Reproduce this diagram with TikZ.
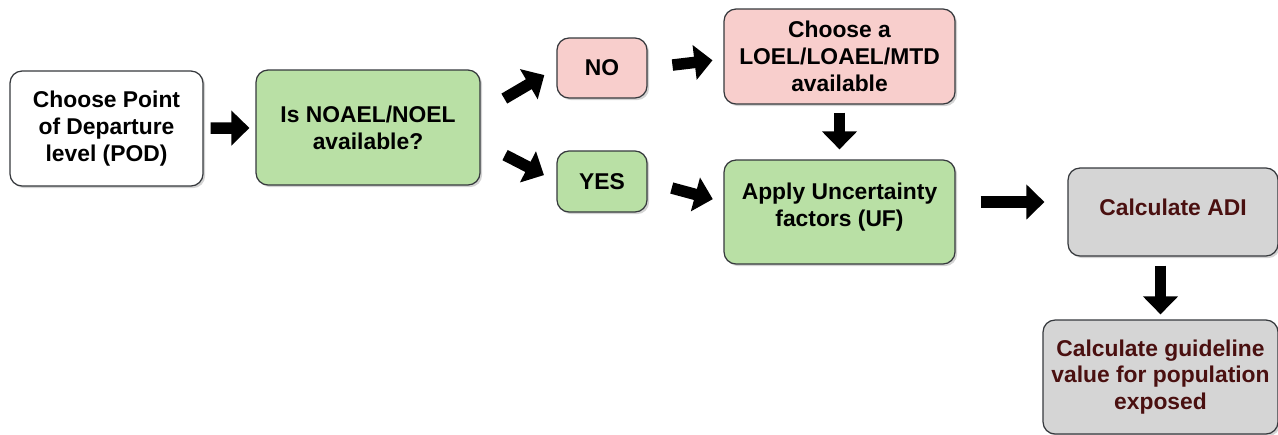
\documentclass[tikz,border=0pt]{standalone}
\usepackage{fontspec}
\setmainfont{Liberation Sans}
\usetikzlibrary{arrows.meta, positioning, shadows}
\definecolor{boxgreen}{HTML}{B9E0A5}
\definecolor{boxpink}{HTML}{F8CECC}
\definecolor{boxgrey}{HTML}{D5D5D5}
\definecolor{boxline}{HTML}{36393D}
\definecolor{darkred}{HTML}{4A1010}
\tikzset{
  base/.style = {
    draw=boxline, line width=0.7pt, align=center,
    font=\bfseries\fontsize{13}{15.3}\selectfont, text centered,
    rounded corners=0.24cm,
    drop shadow={shadow xshift=1.2pt, shadow yshift=-1.2pt, opacity=0.35}
  },
  startbox/.style = {
    base, fill=white
  },
  yesbox/.style = {
    base, fill=boxgreen
  },
  nobox/.style = {
    base, fill=boxpink
  },
  resultbox/.style = {
    base, fill=boxgrey, text=darkred
  },
  blockarrow/.style = {
    line width=0.23cm, -{Triangle[length=0.36cm, width=0.68cm]}
  }
}

\begin{document}
\begin{tikzpicture}[x=0.02cm, y=-0.02cm]
  \useasboundingbox (0,0) rectangle (1278,434);

  % Boxes
  \node[startbox, minimum width=3.86cm, minimum height=2.3cm] (pod) at (106.5,128.5)
    {Choose Point\\of Departure\\level (POD)};
  \node[yesbox, minimum width=4.48cm, minimum height=2.3cm] (noael) at (368,127.5)
    {Is NOAEL/NOEL\\available?};
  \node[nobox, minimum width=1.8cm, minimum height=1.2cm] (no) at (602,68) {NO};
  \node[yesbox, minimum width=1.8cm, minimum height=1.22cm] (yes) at (602,181.5) {YES};
  \node[nobox, minimum width=4.62cm, minimum height=1.9cm] (loel) at (839.5,56.5)
    {Choose a\\LOEL/LOAEL/MTD\\available};
  \node[yesbox, minimum width=4.62cm, minimum height=2.08cm, text depth=0.3cm] (uf) at (839.5,212)
    {Apply Uncertainty\\factors (UF)};
  \node[resultbox, minimum width=4.2cm, minimum height=1.76cm, text depth=0.18cm] (adi) at (1173,212)
    {Calculate ADI};
  \node[resultbox, minimum width=4.7cm, minimum height=2.28cm] (guide) at (1160.5,377)
    {Calculate guideline\\value for population\\exposed};

  % Arrows
  \draw[blockarrow, shorten <=0.14cm, shorten >=0.12cm] (pod) -- (noael);
  \draw[blockarrow, shorten <=0.55cm, shorten >=0.28cm] ([yshift=0.3cm]noael.east) -- (no.west);
  \draw[blockarrow, shorten <=0.55cm, shorten >=0.28cm] ([yshift=-0.3cm]noael.east) -- (yes.west);
  \draw[blockarrow, shorten <=0.5cm, shorten >=0.22cm] (no.east) -- ([yshift=-0.05cm]loel.west);
  \draw[blockarrow, shorten <=0.5cm, shorten >=0.22cm] (yes.east) -- ([yshift=0.2cm]uf.west);
  \draw[blockarrow, shorten <=0.16cm, shorten >=0.2cm] (loel) -- (uf);
  \draw[blockarrow, shorten <=0.5cm, shorten >=0.46cm] ([yshift=0.2cm]uf.east) -- ([yshift=0.2cm]adi.west);
  \draw[blockarrow, shorten <=0.18cm, shorten >=0.1cm] (adi.south -| guide) -- (guide);

\end{tikzpicture}
\end{document}
